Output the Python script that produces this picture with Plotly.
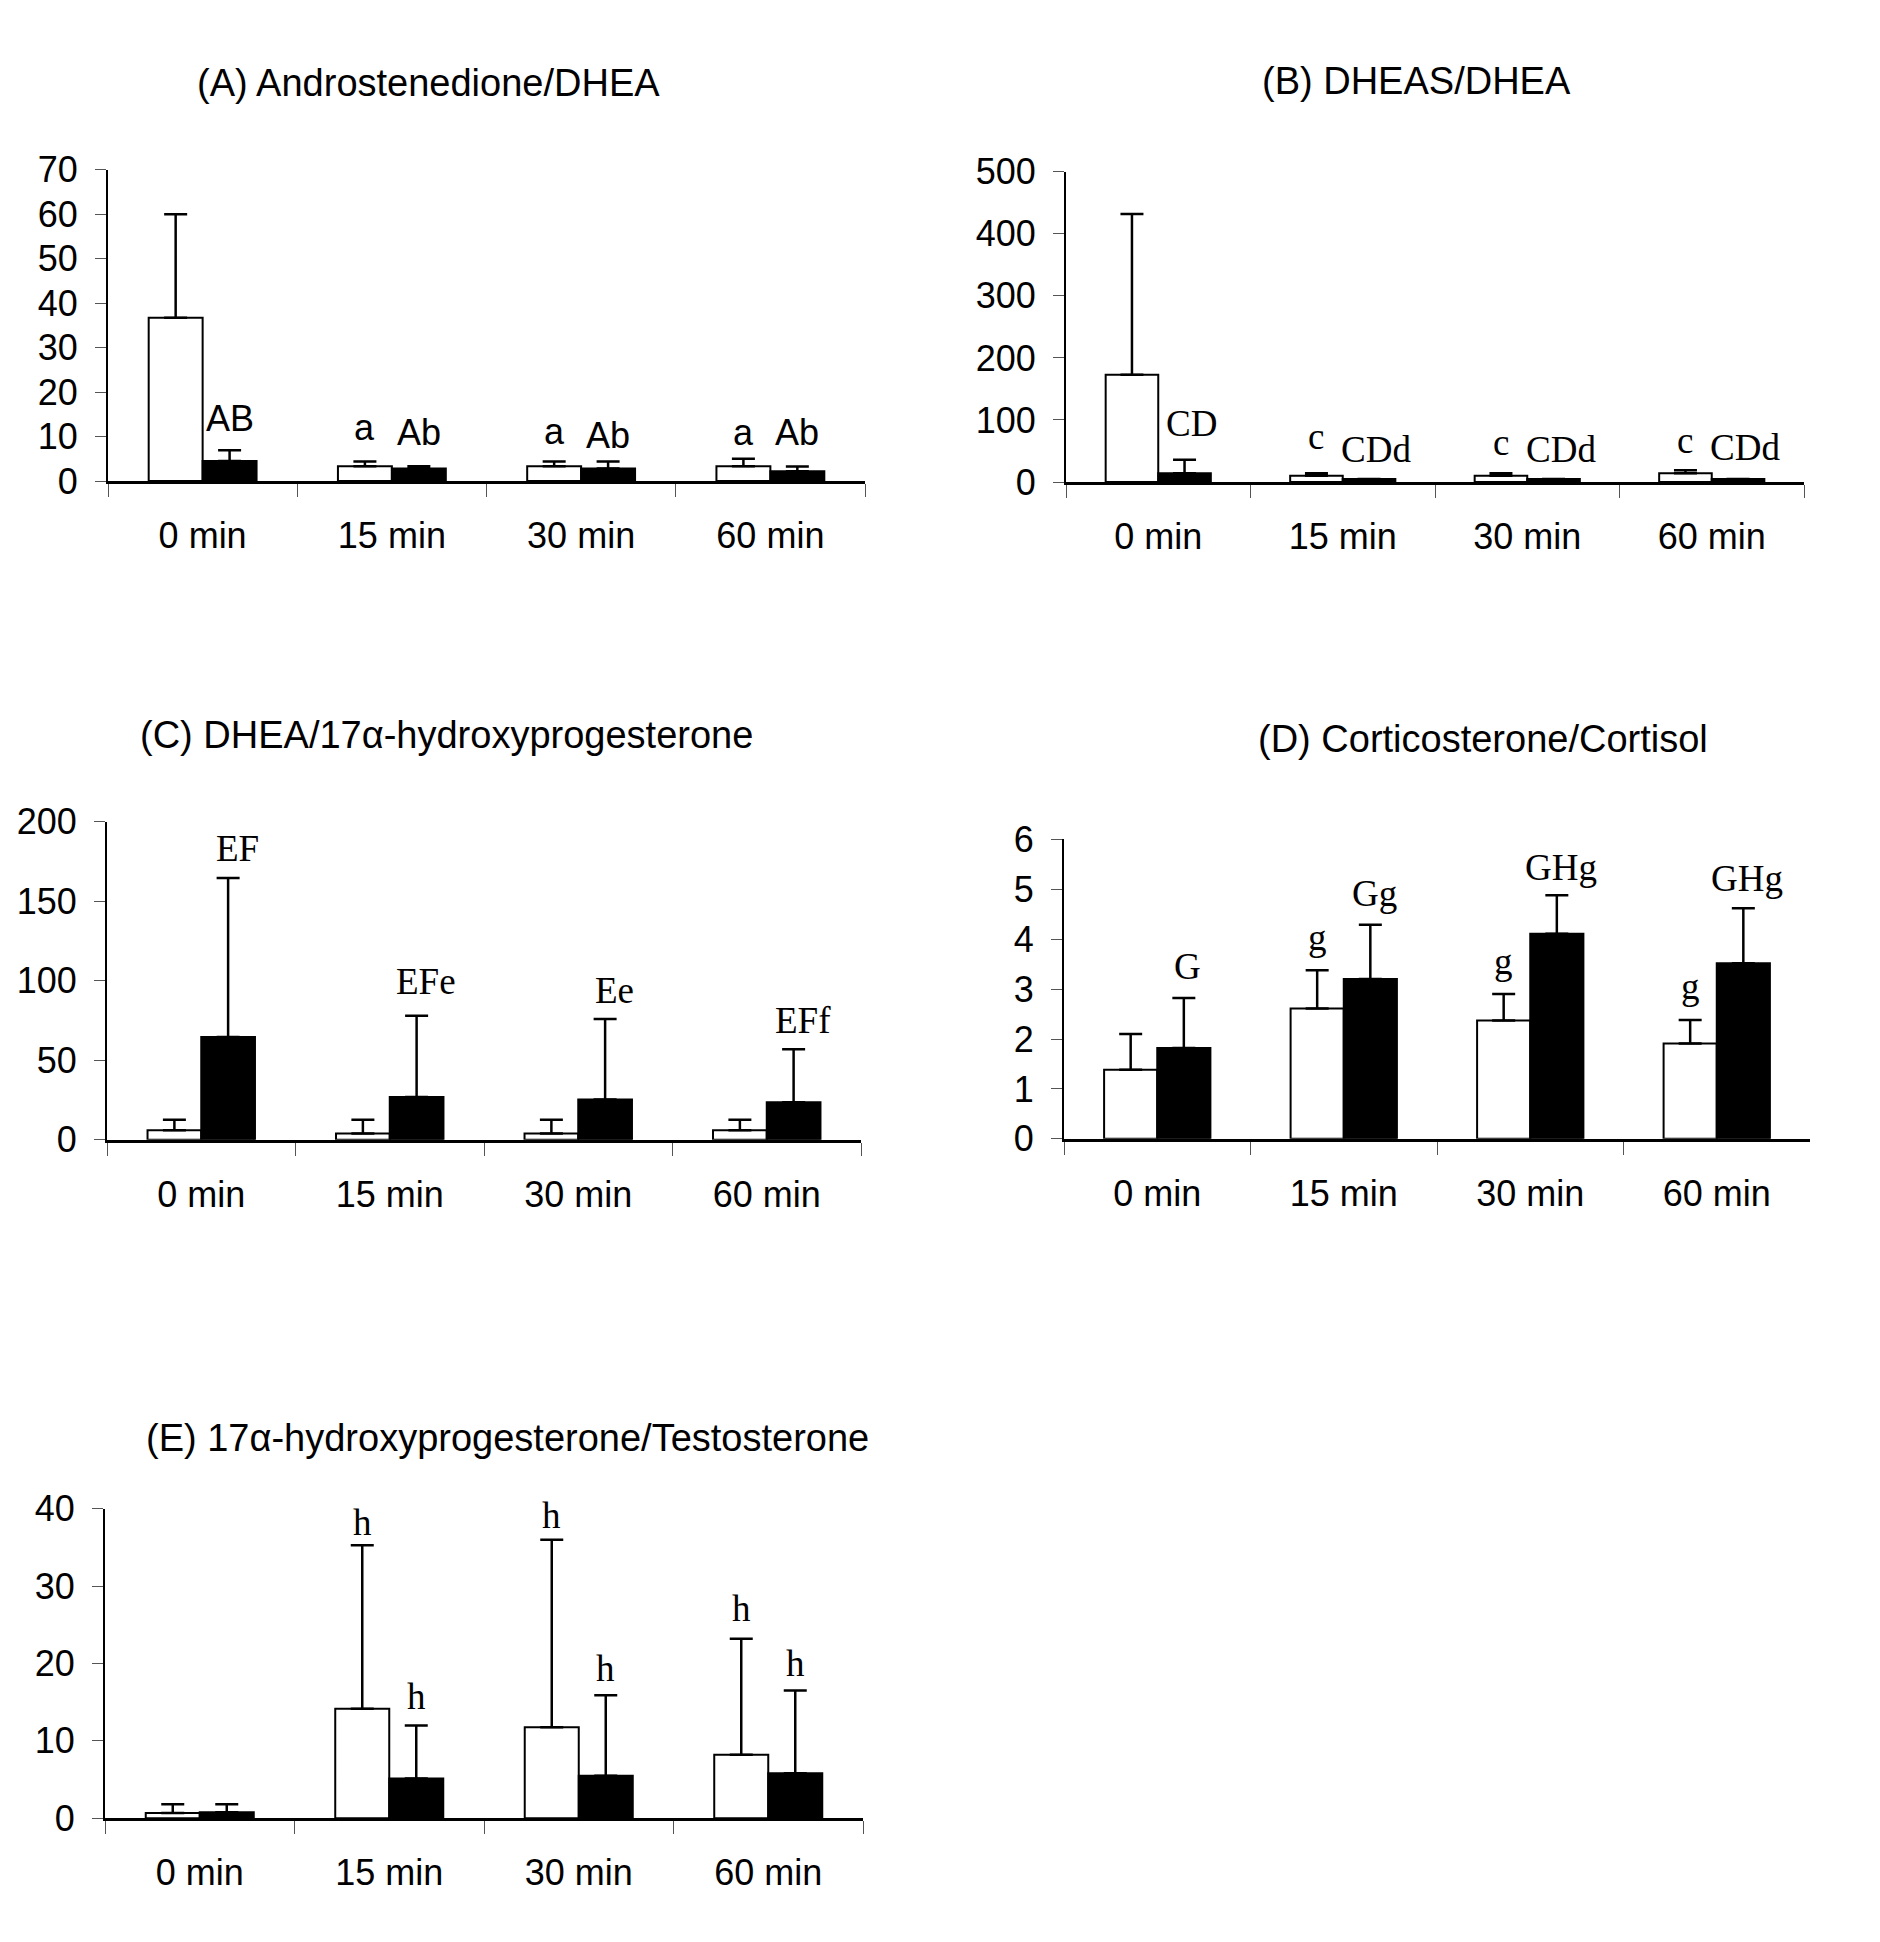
import plotly.graph_objects as go

W, H = 1880, 1942

categories = ["0 min", "15 min", "30 min", "60 min"]

# Panel A: Androstenedione/DHEA
a_white = [36.7, 3.35, 3.35, 3.35]
a_white_err = [23.3, 1.05, 1.05, 1.65]
a_black = [4.5, 2.8, 2.8, 2.2]
a_black_err = [2.4, 0.55, 1.6, 1.1]

# Panel B: DHEAS/DHEA
b_white = [173, 10, 10, 14]
b_white_err = [259, 4, 4, 5]
b_black = [14, 5, 5, 5]
b_black_err = [22, 0, 0, 0]

# Panel C: DHEA/17a-hydroxyprogesterone
c_white = [6, 4, 4, 6]
c_white_err = [6.6, 8.6, 8.6, 6.6]
c_black = [64.6, 27, 25.4, 23.7]
c_black_err = [100, 51, 50.6, 33.3]

# Panel D: Corticosterone/Cortisol
d_white = [1.385, 2.61, 2.37, 1.91]
d_white_err = [0.715, 0.77, 0.53, 0.47]
d_black = [1.82, 3.2, 4.11, 3.52]
d_black_err = [1.0, 1.09, 0.77, 1.1]

# Panel E: 17a-hydroxyprogesterone/Testosterone
e_white = [0.68, 14.16, 11.77, 8.2]
e_white_err = [1.12, 21.14, 24.23, 15.0]
e_black = [0.77, 5.14, 5.5, 5.8]
e_black_err = [1.03, 6.86, 10.4, 10.7]

titles = ["(A) Androstenedione/DHEA", "(B) DHEAS/DHEA",
          "(C) DHEA/17\u03b1-hydroxyprogesterone", "(D) Corticosterone/Cortisol",
          "(E) 17\u03b1-hydroxyprogesterone/Testosterone"]
y_ranges = [70, 500, 200, 6, 40]
y_dticks = [10, 100, 50, 1, 10]

# significance letters: (category index, series 'w'/'b', text, baseline value)
labels = {
    0: [(0, "b", "AB", 11.3), (1, "w", "a", 9.2), (1, "b", "Ab", 8.0),
        (2, "w", "a", 8.4), (2, "b", "Ab", 7.3), (3, "w", "a", 8.0), (3, "b", "Ab", 8.0)],
    1: [(0, "b", "CD", 73), (1, "w", "c", 52), (1, "b", "CDd", 31),
        (2, "w", "c", 43), (2, "b", "CDd", 31), (3, "w", "c", 46), (3, "b", "CDd", 35)],
    2: [(0, "b", "EF", 175), (1, "b", "EFe", 91.5), (2, "b", "Ee", 86), (3, "b", "EFf", 67)],
    3: [(0, "b", "G", 3.19), (1, "w", "g", 3.77), (1, "b", "Gg", 4.66),
        (2, "w", "g", 3.3), (2, "b", "GHg", 5.18), (3, "w", "g", 2.8), (3, "b", "GHg", 4.95)],
    4: [(1, "w", "h", 36.6), (1, "b", "h", 14.1), (2, "w", "h", 37.5),
        (2, "b", "h", 17.7), (3, "w", "h", 25.4), (3, "b", "h", 18.3)],
}
label_dx = {0: {"w": 0, "b": 0}, 1: {"w": 0, "b": 0.04}, 2: {"w": 0, "b": 0.05},
            3: {"w": 0, "b": 0.02}, 4: {"w": 0, "b": 0}}

whites = [a_white, b_white, c_white, d_white, e_white]
white_errs = [a_white_err, b_white_err, c_white_err, d_white_err, e_white_err]
blacks = [a_black, b_black, c_black, d_black, e_black]
black_errs = [a_black_err, b_black_err, c_black_err, d_black_err, e_black_err]

# layout boxes in pixels: (x0, x1, ytop, ybottom)
boxes = [(108, 865, 153, 471), (1066, 1804, 155, 472),
         (107, 861, 819, 1144), (1064, 1810, 837, 1143),
         (105, 863, 1521, 1837)]
title_pos = [(428, 64), (1416, 62), (446, 730), (1483, 734), (507, 1449)]

SANS = "Liberation Sans, Arial, sans-serif"
SERIF = "Liberation Serif, Times New Roman, serif"

fig = go.Figure()
annotations = []
layout = {}
bw = 0.285
for p in range(5):
    sfx = "" if p == 0 else str(p + 1)
    xa, ya = "x" + sfx, "y" + sfx
    fig.add_trace(go.Bar(
        x=categories, y=whites[p], xaxis=xa, yaxis=ya,
        marker=dict(color="white", line=dict(color="black", width=2)),
        error_y=dict(type="data", array=white_errs[p], arrayminus=[0] * 4,
                     symmetric=False, color="black", thickness=2.5, width=11.5),
        showlegend=False))
    fig.add_trace(go.Bar(
        x=categories, y=blacks[p], xaxis=xa, yaxis=ya,
        marker=dict(color="black", line=dict(color="black", width=2)),
        error_y=dict(type="data", array=black_errs[p], arrayminus=[0] * 4,
                     symmetric=False, color="black", thickness=2.5, width=11.5),
        showlegend=False))
    x0, x1, yt, yb = boxes[p]
    layout["xaxis" + sfx] = dict(
        domain=[x0 / W, x1 / W], anchor=ya, type="category",
        categoryorder="array", categoryarray=categories, range=[-0.5, 3.5],
        showline=True, linecolor="black", linewidth=3,
        ticks="outside", tickson="boundaries", ticklen=13, tickwidth=1,
        tickcolor="#555", ticklabelstandoff=21,
        tickfont=dict(family=SANS, size=36, color="black"),
        showgrid=False, zeroline=False, fixedrange=True)
    layout["yaxis" + sfx] = dict(
        domain=[1 - yb / H, 1 - yt / H], anchor=xa,
        range=[0, y_ranges[p]], dtick=y_dticks[p], tick0=0,
        showline=True, linecolor="black", linewidth=2,
        ticks="outside", ticklen=11, tickwidth=1, tickcolor="#555",
        ticklabelstandoff=10,
        tickfont=dict(family=SANS, size=36, color="black"),
        showgrid=False, zeroline=False, fixedrange=True)
    tx, ty = title_pos[p]
    annotations.append(dict(
        text=titles[p], xref="paper", yref="paper", x=tx / W, y=1 - ty / H,
        xanchor="center", yanchor="middle", showarrow=False,
        font=dict(family=SANS, size=38, color="black")))
    fam = SANS if p == 0 else SERIF
    fs = 36 if p == 0 else 37
    for (ci, s, txt, yv) in labels[p]:
        off = -bw / 2 if s == "w" else bw / 2
        annotations.append(dict(
            text=txt, xref=xa, yref=ya, x=ci + off + label_dx[p][s], y=yv,
            xanchor="center", yanchor="middle", yshift=0.35 * fs,
            showarrow=False, font=dict(family=fam, size=fs, color="black")))

fig.update_layout(
    width=W, height=H, margin=dict(l=0, r=0, t=0, b=0),
    paper_bgcolor="white", plot_bgcolor="white",
    barmode="group", bargap=0.43, bargroupgap=0,
    annotations=annotations, **layout)

fig.write_html("out.html", config={"displayModeBar": False},
               post_script="document.body.style.margin='0px';")
